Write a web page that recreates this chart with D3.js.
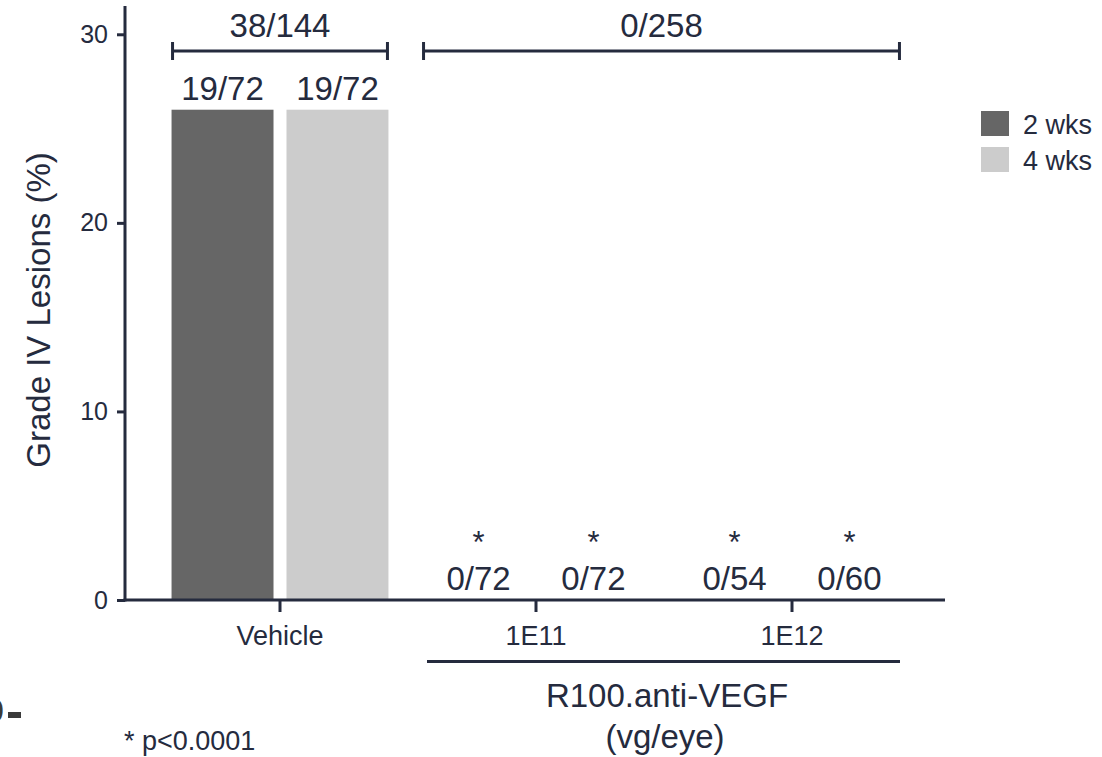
<!DOCTYPE html>
<html>
<head>
<meta charset="utf-8">
<script src="https://cdn.jsdelivr.net/npm/d3@7"></script>
<style>
  html, body { margin: 0; padding: 0; background: #fff; }
  text { font-family: "Liberation Sans", Arial, sans-serif; fill: #252b3e; }
</style>
</head>
<body>
<svg id="chart" width="1102" height="757"></svg>
<script>
// data
const categories = ["Vehicle", "1E11", "1E12"];
const seriesNames = ["2 wks", "4 wks"];
const values2wks = [26, 0, 0];
const values4wks = [26, 0, 0];
const labels2wks = ["19/72", "0/72", "0/54"];
const labels4wks = ["19/72", "0/72", "0/60"];
const stars = ["", "*", "*"];
const yTicks = [0, 10, 20, 30];
const bracketLabels = ["38/144", "0/258"];
const bracketFrom = ["Vehicle", "1E11"];
const bracketTo = ["Vehicle", "1E12"];

const ink = "#252b3e";
const colors = ["#666666", "#cccccc"];

const svg = d3.select("#chart");

// scales
const x0 = d3.scaleBand().domain(categories).range([152, 920]).padding(0);
const x1 = d3.scaleBand().domain(seriesNames).range([0, x0.bandwidth()])
  .paddingInner(0.113).paddingOuter(0.17);
const y = d3.scaleLinear().domain([0, 31.5]).range([600, 6]);
const color = d3.scaleOrdinal().domain(seriesNames).range(colors);

const rows = categories.map((c, i) => ({
  cat: c,
  bars: [
    { s: seriesNames[0], v: values2wks[i], label: labels2wks[i], star: stars[i] },
    { s: seriesNames[1], v: values4wks[i], label: labels4wks[i], star: stars[i] }
  ]
}));

// bars
const groups = svg.append("g").selectAll("g")
  .data(rows)
  .join("g")
  .attr("transform", d => `translate(${x0(d.cat)},0)`);

groups.selectAll("rect")
  .data(d => d.bars)
  .join("rect")
  .attr("x", d => x1(d.s))
  .attr("y", d => y(d.v))
  .attr("width", x1.bandwidth())
  .attr("height", d => y(0) - y(d.v))
  .attr("fill", d => color(d.s));

// count labels above bars
groups.selectAll("text.count")
  .data(d => d.bars)
  .join("text")
  .attr("class", "count")
  .attr("x", d => x1(d.s) + x1.bandwidth() / 2)
  .attr("y", d => y(d.v) - 10)
  .attr("text-anchor", "middle")
  .style("font-size", "33px")
  .text(d => d.label);

// significance stars
groups.selectAll("text.star")
  .data(d => d.bars.filter(b => b.star))
  .join("text")
  .attr("class", "star")
  .attr("x", d => x1(d.s) + x1.bandwidth() / 2)
  .attr("y", d => y(d.v) - 47)
  .attr("text-anchor", "middle")
  .style("font-size", "31px")
  .text(d => d.star);

// y axis
const yAxis = svg.append("g")
  .attr("transform", "translate(125,0)")
  .call(d3.axisLeft(y).tickValues(yTicks).tickSize(8).tickPadding(9).tickSizeOuter(0));
yAxis.select(".domain").attr("stroke", ink).attr("stroke-width", 3).attr("d", "M0,601.5V6");
yAxis.selectAll(".tick line").attr("stroke", ink).attr("stroke-width", 3);
yAxis.selectAll(".tick text").style("font-size", "25px").attr("fill", ink);

// x axis
const xAxis = svg.append("g")
  .attr("transform", "translate(0,600)")
  .call(d3.axisBottom(x0).tickSize(12).tickPadding(14).tickSizeOuter(0));
xAxis.select(".domain").attr("stroke", ink).attr("stroke-width", 3).attr("d", "M123.5,0H945");
xAxis.selectAll(".tick line").attr("stroke", ink).attr("stroke-width", 3);
xAxis.selectAll(".tick text").style("font-size", "27px").attr("fill", ink).attr("dy", "0.71em");

// y title
svg.append("text")
  .attr("transform", "translate(50,310) rotate(-90)")
  .attr("text-anchor", "middle")
  .style("font-size", "33px")
  .text("Grade IV Lesions (%)");

// brackets over groups
bracketLabels.forEach((lab, i) => {
  const left = x0(bracketFrom[i]) + x1(seriesNames[0]) + (i === 0 ? 1 : -4);
  const right = x0(bracketTo[i]) + x1(seriesNames[1]) + x1.bandwidth() - 1;
  const by = 51;
  const g = svg.append("g").attr("stroke", ink).attr("stroke-width", 3);
  g.append("line").attr("x1", left).attr("x2", right).attr("y1", by).attr("y2", by);
  g.append("line").attr("x1", left).attr("x2", left).attr("y1", by - 9).attr("y2", by + 9);
  g.append("line").attr("x1", right).attr("x2", right).attr("y1", by - 9).attr("y2", by + 9);
  svg.append("text")
    .attr("x", (left + right) / 2)
    .attr("y", 37)
    .attr("text-anchor", "middle")
    .style("font-size", "33px")
    .text(lab);
});

// treatment grouping line under 1E11 / 1E12
const gLeft = 427, gRight = 900;
svg.append("line")
  .attr("x1", gLeft).attr("x2", gRight).attr("y1", 661.5).attr("y2", 661.5)
  .attr("stroke", ink).attr("stroke-width", 3);
svg.append("text")
  .attr("x", 667).attr("y", 707)
  .attr("text-anchor", "middle")
  .style("font-size", "33px")
  .text("R100.anti-VEGF");
svg.append("text")
  .attr("x", 665).attr("y", 748)
  .attr("text-anchor", "middle")
  .style("font-size", "33px")
  .text("(vg/eye)");

// legend
const legend = svg.append("g").attr("transform", "translate(981,111)");
seriesNames.forEach((s, i) => {
  legend.append("rect")
    .attr("x", 0).attr("y", i * 36)
    .attr("width", 28).attr("height", 25)
    .attr("fill", color(s));
  legend.append("text")
    .attr("x", 42).attr("y", i * 36 + 22.5)
    .style("font-size", "27px")
    .text(s);
});

// footnote
svg.append("text")
  .attr("x", 124).attr("y", 750)
  .style("font-size", "27px")
  .text("* p<0.0001");

// clipped fragment of a neighbouring panel at the left edge
svg.append("text")
  .attr("x", 4).attr("y", 722)
  .attr("text-anchor", "end")
  .style("font-size", "34px")
  .style("fill", "#3a3a3a")
  .text("0");
svg.append("line")
  .attr("x1", 8).attr("x2", 21).attr("y1", 715).attr("y2", 715)
  .attr("stroke", "#3a3a3a").attr("stroke-width", 6);
</script>
</body>
</html>
